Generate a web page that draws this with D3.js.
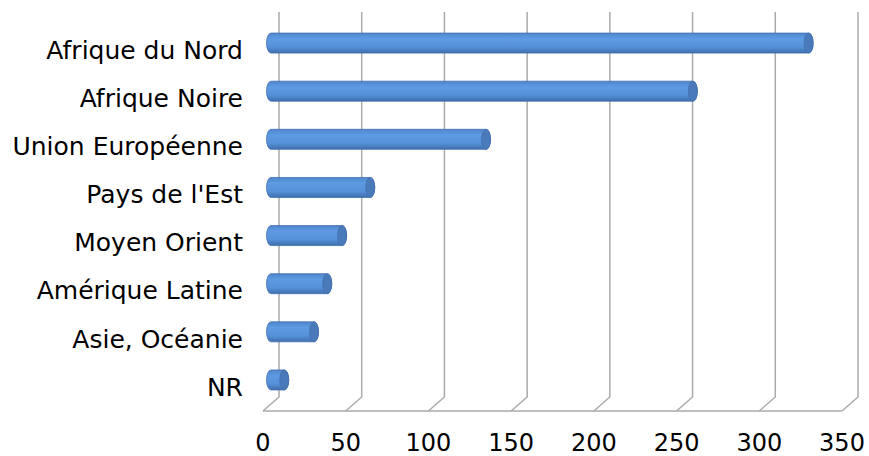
<!DOCTYPE html>
<meta charset='utf-8'>
<head>
    <title>Regions</title>
    <script src='https://d3js.org/d3.v7.min.js'></script>
</head>

<style>
    body { margin: 0; background: #fff; }
    text { font-family: 'DejaVu Sans', sans-serif; fill: #000; }
    .cat { font-size: 25px; }
    .tick { font-size: 24px; }
    .grid { stroke: #aaaaaa; stroke-width: 1.5px; fill: none; }
</style>

<svg></svg>

<script>
    var categories = ['Afrique du Nord', 'Afrique Noire', 'Union Européenne', "Pays de l'Est",
        'Moyen Orient', 'Amérique Latine', 'Asie, Océanie', 'NR'];
    var values = [325, 255, 130, 60, 43, 34, 26, 8];
    var tickValues = [0, 50, 100, 150, 200, 250, 300, 350];

    var vWidth = 869;
    var vHeight = 456;
    // back wall box and 3D depth offset
    var back = {left: 279, right: 858, top: 12, bottom: 397};
    var depth = {dx: -16, dy: 14};

    var svg = d3.select('svg').attr('width', vWidth).attr('height', vHeight);

    var x = d3.scaleLinear().domain([0, 350]).range([back.left, back.right]);
    var y = d3.scaleBand().domain(categories).range([back.top, back.bottom]);

    var defs = svg.append('defs');
    var grad = defs.append('linearGradient').attr('id', 'cyl')
        .attr('x1', 0).attr('y1', 0).attr('x2', 0).attr('y2', 1);
    grad.append('stop').attr('offset', '0%').attr('stop-color', '#4f86cc');
    grad.append('stop').attr('offset', '30%').attr('stop-color', '#5e9be2');
    grad.append('stop').attr('offset', '70%').attr('stop-color', '#5590d8');
    grad.append('stop').attr('offset', '100%').attr('stop-color', '#3f6fae');

    // gridlines: back wall vertical + floor diagonal
    var grid = svg.append('g');
    grid.selectAll('path').data(tickValues).enter().append('path')
        .attr('class', 'grid')
        .attr('d', function (d) {
            return 'M' + x(d) + ',' + back.top + 'V' + back.bottom +
                'l' + depth.dx + ',' + depth.dy;
        });
    grid.append('line').attr('class', 'grid')
        .attr('x1', x(0) + depth.dx).attr('x2', x(350) + depth.dx)
        .attr('y1', back.bottom + depth.dy).attr('y2', back.bottom + depth.dy);

    // bars sit at mid depth
    var mx = depth.dx / 2, my = depth.dy / 2;
    var r = 10, rx = 4.5;
    var bars = svg.append('g').selectAll('g').data(values).enter().append('g')
        .attr('transform', function (d, i) {
            return 'translate(' + mx + ',' + (y(categories[i]) + y.bandwidth() / 2 + my) + ')';
        });

    bars.append('path')
        .attr('fill', 'url(#cyl)')
        .attr('stroke', '#4270b0')
        .attr('stroke-width', 0.8)
        .attr('d', function (d) {
            var x0 = x(0), x1 = x(d);
            return 'M' + x1 + ',' + (-r) + 'H' + x0 +
                'A' + rx + ',' + r + ' 0 0 0 ' + x0 + ',' + r +
                'H' + x1 + 'A' + rx + ',' + r + ' 0 0 0 ' + x1 + ',' + (-r) + 'Z';
        });

    bars.append('ellipse')
        .attr('cx', function (d) { return x(d); })
        .attr('cy', 0)
        .attr('rx', rx).attr('ry', r)
        .attr('fill', '#4a7ab9')
        .attr('stroke', '#4270b0')
        .attr('stroke-width', 0.8);

    // category labels aligned on the front plane
    svg.append('g').selectAll('text').data(categories).enter().append('text')
        .attr('class', 'cat')
        .attr('x', x(0) + depth.dx - 20)
        .attr('y', function (d) { return y(d) + y.bandwidth() / 2 + depth.dy; })
        .attr('dy', '0.35em')
        .attr('text-anchor', 'end')
        .text(function (d) { return d; });

    // value axis labels
    svg.append('g').selectAll('text').data(tickValues).enter().append('text')
        .attr('class', 'tick')
        .attr('x', function (d) { return x(d) + depth.dx; })
        .attr('y', 451)
        .attr('text-anchor', 'middle')
        .text(function (d) { return d; });
</script>
